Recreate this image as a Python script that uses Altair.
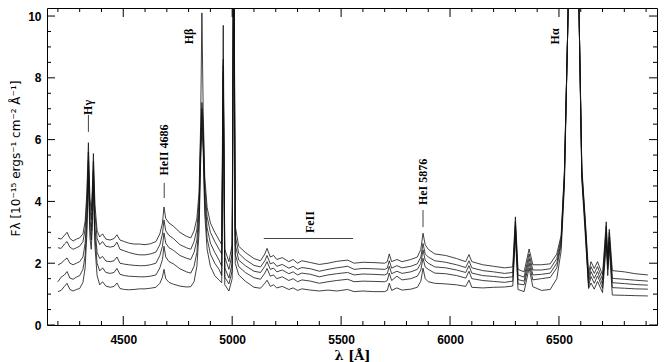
import altair as alt
import pandas as pd

# wavelength grid (Angstrom)
WL = [
    4200, 4215, 4230, 4242, 4255, 4270, 4285, 4300,
    4315, 4325, 4333, 4340, 4347, 4353, 4358, 4363, 4370, 4380, 4392,
    4405, 4420, 4440, 4458, 4471, 4485, 4505, 4525, 4550, 4575, 4600, 4625, 4650,
    4668, 4680, 4687, 4695, 4710, 4730, 4760, 4790, 4810,
    4825, 4838, 4848, 4855, 4861, 4867, 4874, 4885, 4900, 4920, 4940,
    4952, 4959, 4966, 4985, 5000, 5007, 5014, 5030, 5060, 5100,
    5130, 5150, 5160, 5175, 5190, 5205, 5230, 5260, 5280, 5300, 5320, 5360, 5400, 5440, 5480, 5530, 5560, 5600, 5650, 5700,
    5712, 5721, 5732, 5756, 5780, 5820, 5850, 5866, 5876, 5886, 5900, 5930,
    5980, 6030, 6072, 6087, 6100, 6150, 6200, 6250, 6288, 6300, 6312, 6340, 6363, 6380,
    6420, 6460, 6490, 6510, 6525, 6540, 6550, 6563, 6575, 6590, 6605, 6620, 6636,
    6647, 6662, 6677, 6700, 6717, 6724, 6731, 6745, 6800, 6850, 6908,
]

S5 = [
    2.81, 2.78, 2.90, 3.00, 2.80, 2.72, 2.78, 2.82,
    2.95, 3.35, 4.30, 5.90, 4.10, 3.70, 4.40, 5.55, 3.90, 3.05, 2.85,
    2.95, 2.78, 2.75, 2.80, 2.92, 2.75, 2.70, 2.65, 2.62, 2.62, 2.60, 2.63, 2.70,
    2.95, 3.30, 3.82, 3.45, 3.30, 3.20, 3.00, 2.87, 2.82,
    3.05, 3.45, 4.30, 6.40, 10.1, 6.90, 4.80, 3.80, 3.30, 3.00, 2.75,
    2.60, 9.70, 2.45, 2.05, 2.60, 15.0, 3.20, 2.55, 2.35, 2.15,
    2.08, 2.30, 2.48, 2.20, 2.25, 2.12, 2.18, 2.05, 2.12, 2.00, 2.08, 2.02, 1.96, 2.00, 2.06, 2.10, 2.00, 2.03, 2.02, 2.00,
    2.05, 2.30, 2.05, 2.12, 2.05, 2.12, 2.20, 2.45, 2.97, 2.60, 2.45, 2.30,
    2.25, 2.15, 2.05, 2.28, 2.05, 1.95, 1.90, 1.85, 1.88, 3.50, 1.80, 1.72, 2.46, 1.95,
    1.95, 1.98, 2.30, 2.90, 5.00, 9.50, 13.0, 20.0, 18.0, 11.0, 5.10, 3.50, 1.68,
    2.05, 1.83, 2.05, 1.62, 3.34, 2.15, 3.10, 1.76, 1.72, 1.66, 1.62,
]

S4 = [
    2.50, 2.48, 2.62, 2.70, 2.52, 2.45, 2.50, 2.55,
    2.70, 3.10, 4.00, 5.60, 3.80, 3.40, 4.10, 5.30, 3.60, 2.80, 2.60,
    2.70, 2.55, 2.52, 2.55, 2.68, 2.45, 2.40, 2.35, 2.30, 2.27, 2.27, 2.30, 2.36,
    2.60, 2.95, 3.40, 3.05, 2.90, 2.80, 2.60, 2.50, 2.45,
    2.70, 3.10, 4.00, 6.00, 7.20, 6.50, 4.50, 3.50, 3.00, 2.70, 2.45,
    2.30, 8.60, 2.20, 1.80, 2.30, 14.0, 2.90, 2.32, 2.12, 1.93,
    1.88, 2.08, 2.25, 1.98, 2.02, 1.90, 1.96, 1.84, 1.90, 1.80, 1.86, 1.82, 1.74, 1.80, 1.85, 1.90, 1.80, 1.83, 1.82, 1.80,
    1.84, 2.08, 1.84, 1.92, 1.85, 1.90, 1.98, 2.20, 2.64, 2.30, 2.20, 2.08,
    2.03, 1.95, 1.86, 2.08, 1.85, 1.76, 1.72, 1.67, 1.70, 3.35, 1.62, 1.55, 2.30, 1.78,
    1.78, 1.82, 2.15, 2.80, 4.90, 9.50, 13.0, 20.0, 18.0, 11.0, 5.00, 3.40, 1.51,
    1.89, 1.67, 1.89, 1.46, 3.20, 2.00, 3.00, 1.51, 1.48, 1.45, 1.42,
]

S3 = [
    1.94, 2.00, 2.10, 2.17, 2.00, 1.95, 2.00, 2.05,
    2.20, 2.65, 3.60, 5.30, 3.45, 3.05, 3.75, 5.00, 3.15, 2.35, 2.15,
    2.22, 2.07, 2.05, 2.08, 2.20, 2.00, 1.97, 1.95, 1.93, 1.92, 1.92, 1.95, 2.00,
    2.25, 2.55, 2.98, 2.65, 2.50, 2.42, 2.25, 2.16, 2.12,
    2.35, 2.75, 3.70, 5.80, 7.00, 6.20, 4.20, 3.15, 2.65, 2.35, 2.10,
    1.90, 8.40, 1.85, 1.52, 2.00, 13.5, 2.60, 2.10, 1.92, 1.74,
    1.70, 1.90, 2.05, 1.80, 1.84, 1.72, 1.78, 1.66, 1.72, 1.62, 1.68, 1.64, 1.56, 1.62, 1.66, 1.70, 1.62, 1.65, 1.64, 1.62,
    1.66, 1.90, 1.66, 1.74, 1.67, 1.72, 1.80, 2.00, 2.43, 2.10, 2.00, 1.88,
    1.85, 1.78, 1.70, 1.92, 1.68, 1.60, 1.57, 1.53, 1.56, 3.20, 1.47, 1.42, 2.15, 1.62,
    1.64, 1.68, 2.00, 2.70, 4.80, 9.50, 13.0, 20.0, 18.0, 11.0, 4.90, 3.30, 1.37,
    1.73, 1.51, 1.73, 1.32, 3.00, 1.90, 2.85, 1.37, 1.34, 1.31, 1.29,
]

S2 = [
    1.40, 1.55, 1.62, 1.73, 1.52, 1.48, 1.55, 1.60,
    1.80, 2.25, 3.25, 5.00, 3.15, 2.75, 3.45, 4.70, 2.85, 2.00, 1.75,
    1.85, 1.70, 1.67, 1.70, 1.83, 1.64, 1.60, 1.58, 1.57, 1.56, 1.56, 1.58, 1.62,
    1.85, 2.12, 2.55, 2.20, 2.05, 1.98, 1.82, 1.72, 1.68,
    1.90, 2.35, 3.40, 5.50, 6.80, 5.90, 3.90, 2.80, 2.30, 2.00, 1.80,
    1.60, 8.20, 1.55, 1.33, 1.75, 13.0, 2.30, 1.89, 1.70, 1.53,
    1.48, 1.68, 1.83, 1.58, 1.62, 1.50, 1.56, 1.44, 1.50, 1.40, 1.46, 1.42, 1.35, 1.40, 1.44, 1.48, 1.40, 1.42, 1.41, 1.40,
    1.44, 1.68, 1.44, 1.58, 1.46, 1.50, 1.58, 1.78, 2.16, 1.88, 1.80, 1.68,
    1.66, 1.60, 1.52, 1.74, 1.50, 1.44, 1.41, 1.38, 1.42, 3.05, 1.33, 1.30, 2.00, 1.46,
    1.50, 1.54, 1.85, 2.60, 4.70, 9.50, 13.0, 20.0, 18.0, 11.0, 4.80, 3.20, 1.24,
    1.57, 1.35, 1.59, 1.19, 2.85, 1.80, 2.70, 1.21, 1.19, 1.17, 1.16,
]

S1 = [
    1.08, 1.12, 1.25, 1.35, 1.15, 1.10, 1.15, 1.18,
    1.38, 1.85, 2.95, 4.70, 2.85, 2.45, 3.15, 4.40, 2.55, 1.60, 1.30,
    1.40, 1.26, 1.22, 1.25, 1.36, 1.18, 1.15, 1.14, 1.15, 1.17, 1.17, 1.19, 1.22,
    1.35, 1.55, 1.80, 1.50, 1.38, 1.32, 1.26, 1.23, 1.24,
    1.40, 1.90, 3.00, 5.20, 6.40, 5.60, 3.60, 2.45, 1.90, 1.60, 1.45,
    1.37, 8.00, 1.30, 1.10, 1.50, 12.5, 2.00, 1.62, 1.42, 1.22,
    1.19, 1.35, 1.45, 1.25, 1.30, 1.20, 1.25, 1.15, 1.20, 1.12, 1.17, 1.13, 1.10, 1.13, 1.10, 1.15, 1.08, 1.10, 1.08, 1.08,
    1.12, 1.35, 1.12, 1.20, 1.13, 1.16, 1.22, 1.42, 1.84, 1.50, 1.40, 1.35,
    1.33, 1.30, 1.25, 1.45, 1.22, 1.20, 1.22, 1.23, 1.26, 2.85, 1.15, 1.08, 1.85, 1.24,
    1.12, 1.15, 1.50, 2.40, 4.50, 9.50, 13.0, 20.0, 18.0, 11.0, 4.70, 3.00, 1.18,
    1.36, 1.16, 1.41, 1.05, 2.60, 1.60, 2.50, 0.97, 0.96, 0.95, 0.94,
]

SPECTRA = {"s1": S1, "s2": S2, "s3": S3, "s4": S4, "s5": S5}

X_MAJOR = [4500, 5000, 5500, 6000, 6500]
X_MINOR = [v for v in range(4200, 7000, 100) if v % 500 != 0]
Y_MAJOR = [0, 2, 4, 6, 8, 10]
Y_MINOR = [v / 2 for v in range(1, 21) if v % 4 != 0]

LABELS = ["Hγ", "HeII  4686", "Hβ", "FeII", "HeI  5876", "Hα"]
LABEL_WL = [4340, 4688, 4804, 5355, 5876, 6481]
LABEL_F = [7.04, 5.66, 9.34, 3.33, 4.63, 9.34]

MARK_WL = [4340, 4688, 5876]
MARK_F1 = [6.25, 4.11, 3.17]
MARK_F2 = [6.80, 4.60, 3.72]

FE_WL = [5145, 5555]
FE_F = 2.80

W, H = 610, 317
XDOM = [4150, 6950]
YDOM = [0, 10.26]

rows = []
for name, arr in SPECTRA.items():
    for w, f in zip(WL, arr):
        rows.append({"wl": w, "flux": f, "spec": name})
df = pd.DataFrame(rows)

xs = alt.Scale(domain=XDOM, nice=False, zero=False)
ys = alt.Scale(domain=YDOM, nice=False, zero=False)

xaxis = alt.Axis(values=X_MAJOR, format="d", ticks=False, domain=False, grid=False,
                 labelFont="Liberation Sans", labelFontWeight="bold", labelFontSize=12,
                 labelColor="black", labelPadding=9,
                 title="λ [Å]", titleFont="DejaVu Serif", titleFontSize=13,
                 titleFontWeight="bold", titleColor="black", titleY=30, titleBaseline="middle")
yaxis = alt.Axis(values=Y_MAJOR, format="d", ticks=False, domain=False, grid=False,
                 labelFont="Liberation Sans", labelFontWeight="bold", labelFontSize=12,
                 labelColor="black", labelPadding=6,
                 title="Fλ [10⁻¹⁵ ergs⁻¹ cm⁻² Å⁻¹]", titleFont="DejaVu Sans", titleFontSize=12,
                 titleFontWeight="normal", titleColor="black", titleX=-32, titleY=150,
                 titleBaseline="middle")

X = lambda f="wl": alt.X(f"{f}:Q", scale=xs, axis=xaxis)
Y = lambda f="flux": alt.Y(f"{f}:Q", scale=ys, axis=yaxis)

lines = alt.Chart(df).mark_line(clip=True, color="#111", strokeWidth=0.8).encode(
    x=X(), y=Y(), detail="spec:N", order="wl:Q"
)

xmaj = pd.DataFrame({"wl": X_MAJOR})
xmin = pd.DataFrame({"wl": X_MINOR})
ymaj = pd.DataFrame({"flux": Y_MAJOR})
ymin = pd.DataFrame({"flux": Y_MINOR})

def xticks(d, L):
    b = alt.Chart(d).mark_rule(color="black", strokeWidth=1).encode(
        x=X(), y=alt.value(H), y2=alt.value(H - L))
    t = alt.Chart(d).mark_rule(color="black", strokeWidth=1).encode(
        x=X(), y=alt.value(0), y2=alt.value(L))
    return [b, t]

def yticks(d, L):
    l = alt.Chart(d).mark_rule(color="black", strokeWidth=1).encode(
        y=Y(), x=alt.value(0), x2=alt.value(L))
    r = alt.Chart(d).mark_rule(color="black", strokeWidth=1).encode(
        y=Y(), x=alt.value(W), x2=alt.value(W - L))
    return [l, r]

labels_df = pd.DataFrame({"wl": LABEL_WL, "flux": LABEL_F, "label": LABELS})
texts = alt.Chart(labels_df).mark_text(angle=270, align="center", baseline="middle",
                                       font="Liberation Serif", fontWeight="bold",
                                       fontSize=12, color="black").encode(
    x=X(), y=Y(), text="label:N")

marks_df = pd.DataFrame({"wl": MARK_WL, "flux": MARK_F1, "flux2": MARK_F2})
mark_rules = alt.Chart(marks_df).mark_rule(color="#444", strokeWidth=1).encode(
    x=X(), y=Y(), y2="flux2:Q")

fe_df = pd.DataFrame({"wl": [FE_WL[0]], "wl2": [FE_WL[1]], "flux": [FE_F]})
fe_rule = alt.Chart(fe_df).mark_rule(color="#444", strokeWidth=1).encode(
    x=X(), x2="wl2:Q", y=Y())

layers = [lines] + xticks(xmaj, 9) + xticks(xmin, 4) + yticks(ymaj, 8) + yticks(ymin, 4) + [texts, mark_rules, fe_rule]

chart = alt.layer(*layers).properties(
    width=W, height=H,
    autosize=alt.AutoSizeParams(type="none"),
    padding={"left": 39, "top": 0, "right": 1, "bottom": 37},
).configure_view(stroke="black", strokeWidth=1)

chart.save("out.html", embed_options={"renderer": "svg", "actions": False})
